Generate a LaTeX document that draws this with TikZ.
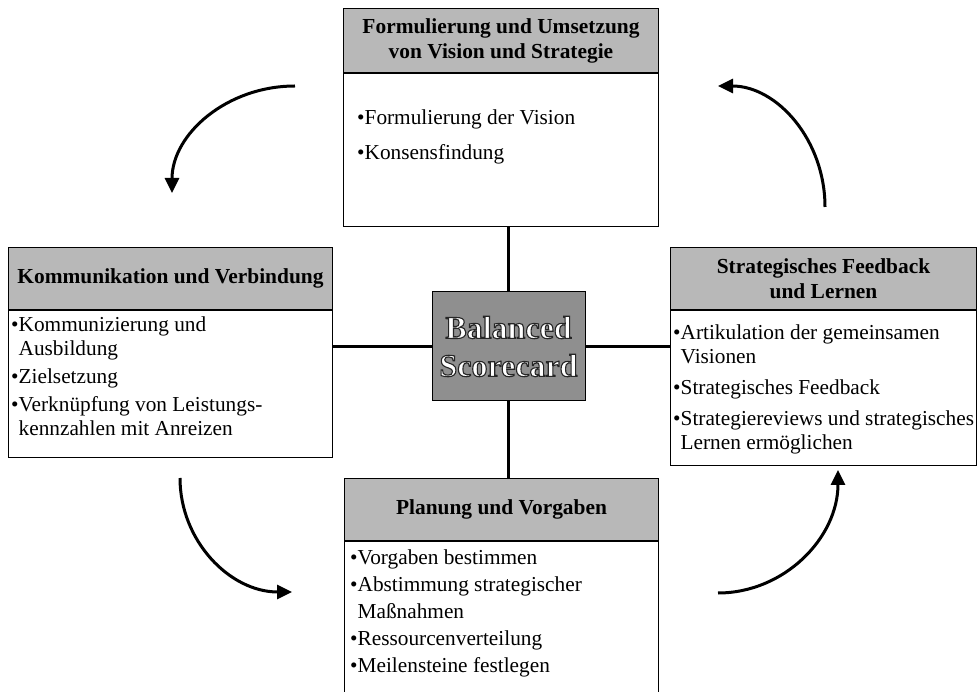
\documentclass[tikz,border=0pt]{standalone}
\usepackage{fontspec}
\setmainfont{Liberation Serif}
\usetikzlibrary{positioning,arrows.meta}

\definecolor{kopfgrau}{gray}{0.72}
\definecolor{kerngrau}{gray}{0.56}

% weisse Schrift mit dunkler Kontur
\newcommand{\kontur}[1]{%
    \special{pdf:literal direct 0.15 G 1.1 w 2 Tr}#1\special{pdf:literal direct 0 Tr}}

\begin{document}
\begin{tikzpicture}[x=1pt,y=-1pt,
        kopf/.style={draw, line width=1pt, fill=kopfgrau, align=center, inner sep=0pt,
                font=\bfseries\fontsize{21.4}{25}\selectfont},
        rumpf/.style={draw, line width=1pt, fill=white, inner sep=0pt},
        liste/.style={anchor=north west, align=left, inner sep=0pt,
                font=\fontsize{21.3}{24}\selectfont},
        kern/.style={draw, line width=1pt, fill=kerngrau, inner sep=0pt,
                minimum width=153pt, minimum height=109pt},
        kernschrift/.style={align=center, inner sep=0pt, text=white,
                font=\bfseries\fontsize{32}{38}\selectfont},
        balken/.style={line width=3pt},
        bogen/.style={line width=3pt, -{Triangle[length=15pt,width=14pt]}}]

        \useasboundingbox (0,0) rectangle (978,692);

        % ===============================
        % Formulierung und Umsetzung (oben)
        % ===============================
        \node[kopf, anchor=north west, minimum width=315pt, minimum height=64pt]
        (vkopf) at (343,8) {Formulierung und Umsetzung\\von Vision und Strategie};
        \node[rumpf, below=0pt of vkopf, minimum width=315pt, minimum height=153pt] (vrumpf) {};
        \node[liste] (vliste) at (357,109.5)
        {•Formulierung der Vision\\[11pt]•Konsensfindung};

        % ===============================
        % Kommunikation und Verbindung (links)
        % ===============================
        \node[kopf, anchor=north west, minimum width=324pt, minimum height=62pt]
        (kkopf) at (8,247) {Kommunikation und Verbindung};
        \node[rumpf, below=0pt of kkopf, minimum width=324pt, minimum height=147pt] (krumpf) {};
        \node[liste] (kliste) at (11,316.5)
        {•Kommunizierung und\\\hphantom{•}Ausbildung\\[4pt]•Zielsetzung\\[4pt]%
            •Verknüpfung von Leistungs-\\\hphantom{•}kennzahlen mit Anreizen};

        % ===============================
        % Strategisches Feedback (rechts)
        % ===============================
        \node[kopf, anchor=north west, minimum width=306pt, minimum height=62pt]
        (skopf) at (670,247) {Strategisches Feedback\\und Lernen};
        \node[rumpf, below=0pt of skopf, minimum width=306pt, minimum height=155pt] (srumpf) {};
        \node[liste] (sliste) at (673,324.5)
        {•Artikulation der gemeinsamen\\\hphantom{•}Visionen\\[7pt]•Strategisches Feedback\\[7pt]%
            •Strategiereviews und strategisches\\\hphantom{•}Lernen ermöglichen};

        % ===============================
        % Planung und Vorgaben (unten)
        % ===============================
        \node[kopf, anchor=north west, minimum width=314pt, minimum height=62pt]
        (pkopf) at (344,478) {Planung und Vorgaben};
        \node[rumpf, below=0pt of pkopf, minimum width=314pt, minimum height=170pt] (prumpf) {};
        \node[liste] (pliste) at (350,549.5)
        {•Vorgaben bestimmen\\[3pt]•Abstimmung strategischer\\[3pt]\hphantom{•}Maßnahmen\\[3pt]%
            •Ressourcenverteilung\\[3pt]•Meilensteine festlegen};

        % ===============================
        % Balanced Scorecard (Mitte)
        % ===============================
        \node[kern] (bsc) at (508.5,346.5) {};
        \node[kernschrift] (bsctext) at (bsc.center) {\kontur{Balanced\\Scorecard}};

        % Verbindungen zum Kern
        \draw[balken] (bsc.north) -- (bsc.north |- vrumpf.south);
        \draw[balken] (bsc.south) -- (bsc.south |- pkopf.north);
        \draw[balken] (bsc.west) -- (bsc.west -| krumpf.east);
        \draw[balken] (bsc.east) -- (bsc.east -| srumpf.west);

        % ===============================
        % Kreislauf-Pfeile
        % ===============================
        \coordinate (b1s) at (295,86);
        \coordinate (b1e) at (172,193);
        \coordinate (b2s) at (825,207);
        \coordinate (b2e) at (718,86);
        \coordinate (b3s) at (180,478);
        \coordinate (b3e) at (292,592);
        \coordinate (b4s) at (718,593);
        \coordinate (b4e) at (838,470);

        \draw[bogen] (b1s) .. controls (227,86) and (172,134) .. (b1e);
        \draw[bogen] (b2s) .. controls (825,140) and (777,86) .. (b2e);
        \draw[bogen] (b3s) .. controls (180,541) and (230,592) .. (b3e);
        \draw[bogen] (b4s) .. controls (784,593) and (838,538) .. (b4e);

    \end{tikzpicture}
\end{document}
